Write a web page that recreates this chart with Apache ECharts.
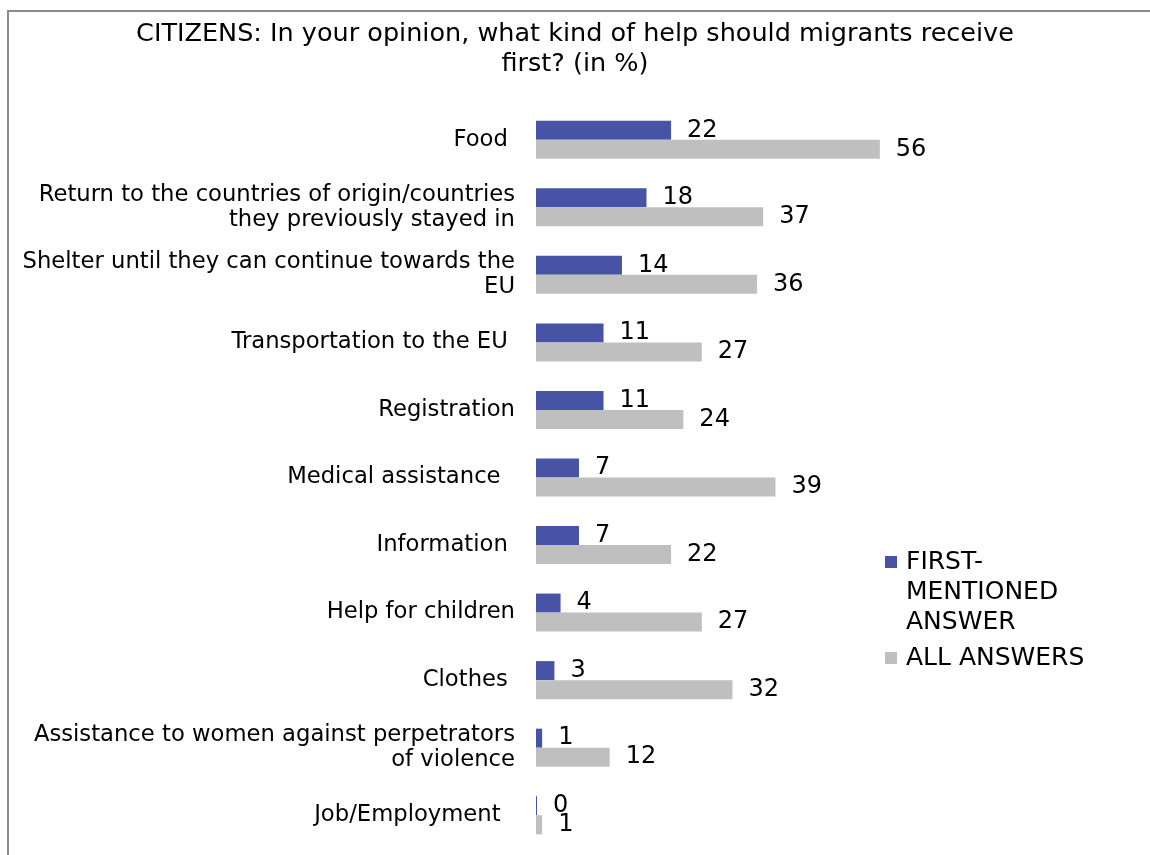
<!DOCTYPE html>
<html>
<head>
<meta charset="utf-8">
<script src="https://cdn.jsdelivr.net/npm/echarts@6/dist/echarts.min.js"></script>
<style>html,body{margin:0;padding:0;background:#fff}#c{width:1150px;height:855px}</style>
</head>
<body>
<div id="c"></div>
<script>
const titleText = 'CITIZENS: In your opinion, what kind of help should migrants receive\nfirst? (in %)';
const categories = [
  'Food ',
  'Return to the countries of origin/countries\nthey previously stayed in',
  'Shelter until they can continue towards the\nEU',
  'Transportation to the EU ',
  'Registration',
  'Medical assistance  ',
  'Information ',
  'Help for children',
  'Clothes ',
  'Assistance to women against perpetrators\nof violence',
  'Job/Employment  '
];
const seriesNames = ['FIRST-MENTIONED ANSWER', 'ALL ANSWERS'];
const legendLabels = ['\n\nFIRST-\nMENTIONED\nANSWER', 'ALL ANSWERS'];
const firstMentioned = [22, 18, 14, 11, 11, 7, 7, 4, 3, 1, 0];
const allAnswers = [56, 37, 36, 27, 24, 39, 22, 27, 32, 12, 1];
const colors = ['#4753A5', '#BFBFBF'];

const font = 'DejaVu Sans';
const chart = echarts.init(document.getElementById('c'), null, {renderer: 'canvas'});
chart.setOption({
  animation: false,
  backgroundColor: '#fff',
  textStyle: {fontFamily: font},
  title: {
    text: titleText,
    left: 'center',
    top: 19,
    padding: 0,
    textStyle: {fontFamily: font, fontSize: 25.5, fontWeight: 'normal', color: '#000', lineHeight: 30}
  },
  graphic: [{
    type: 'rect',
    shape: {x: 8, y: 11, width: 1200, height: 900},
    style: {fill: 'none', stroke: '#8c8c8c', lineWidth: 2},
    silent: true,
    z: -1
  }],
  legend: [{
    data: [seriesNames[0]],
    left: 885,
    top: 487,
    padding: 0,
    itemWidth: 12,
    itemHeight: 12,
    icon: 'rect',
    formatter: () => legendLabels[0],
    textStyle: {fontFamily: font, fontSize: 25, color: '#000', lineHeight: 30, padding: [0, 0, 0, 4]}
  }, {
    data: [seriesNames[1]],
    left: 885,
    top: 643,
    padding: 0,
    itemWidth: 12,
    itemHeight: 12,
    icon: 'rect',
    formatter: () => legendLabels[1],
    textStyle: {fontFamily: font, fontSize: 25, color: '#000', lineHeight: 30, padding: [0, 0, 0, 4]}
  }],
  grid: {left: 536, top: 106, width: 624, height: 743, containLabel: false},
  xAxis: {
    type: 'value', min: 0, max: 100,
    show: false,
    splitLine: {show: false}
  },
  yAxis: {
    type: 'category',
    data: categories,
    inverse: true,
    axisLine: {show: false},
    axisTick: {show: false},
    axisLabel: {fontFamily: font, fontSize: 22.7, color: '#000', lineHeight: 25, margin: 21, align: 'right'}
  },
  series: [{
    name: seriesNames[0],
    type: 'bar',
    data: firstMentioned,
    barWidth: 19,
    barGap: '0%',
    barMinHeight: 1,
    itemStyle: {color: colors[0]},
    label: {show: true, position: 'right', distance: 16, fontFamily: font, fontSize: 24, color: '#000'}
  }, {
    name: seriesNames[1],
    type: 'bar',
    data: allAnswers,
    barWidth: 19,
    barGap: '0%',
    itemStyle: {color: colors[1]},
    label: {show: true, position: 'right', distance: 16, fontFamily: font, fontSize: 24, color: '#000'}
  }]
});
</script>
</body>
</html>
